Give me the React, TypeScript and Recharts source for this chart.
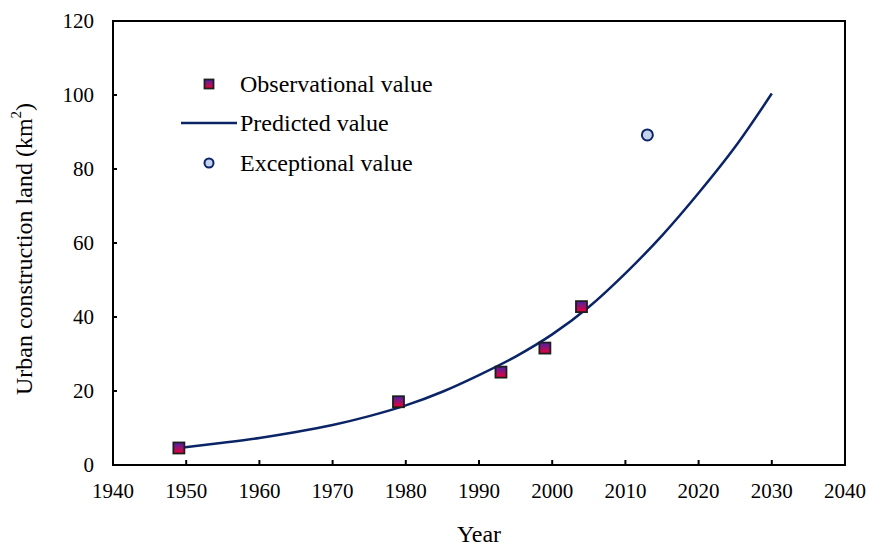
// Urban construction land: observed points, exceptional point and fitted growth curve.

import {
  ComposedChart,
  Legend,
  Line,
  ReferenceArea,
  Scatter,
  XAxis,
  YAxis,
} from 'recharts'

const SERIF = '"Liberation Serif", "Times New Roman", serif'
const NAVY = '#0b2466'

// data
const observedYears = [1949, 1979, 1993, 1999, 2004]
const observedValues = [4.6, 17.1, 25.1, 31.6, 42.8]

const exceptionalYears = [2013]
const exceptionalValues = [89.2]

const predictedYears = [
  1949, 1955, 1960, 1965, 1970, 1975, 1980, 1985, 1990, 1995, 2000, 2005, 2010,
  2015, 2020, 2025, 2030,
]
const predictedValues = [
  4.6, 6.0, 7.3, 8.9, 10.8, 13.2, 16.1, 19.8, 24.3, 29.3, 35.3, 42.7, 51.8,
  62.0, 73.5, 86.0, 100.4,
]

const xTicks = [1940, 1950, 1960, 1970, 1980, 1990, 2000, 2010, 2020, 2030, 2040]
const yTicks = [0, 20, 40, 60, 80, 100, 120]

const observed = observedYears.map((year, i) => ({ year, value: observedValues[i] }))
const exceptional = exceptionalYears.map((year, i) => ({ year, value: exceptionalValues[i] }))
const predicted = predictedYears.map((year, i) => ({ year, value: predictedValues[i] }))

const SquareMark = (props: any) => {
  const { cx, cy } = props
  if (cx == null || cy == null) return <g />
  return (
    <rect
      x={cx - 5.5}
      y={cy - 5.5}
      width={11}
      height={11}
      fill="url(#sqGrad)"
      stroke="#1e1e1e"
      strokeWidth={1.8}
    />
  )
}

const CircleMark = (props: any) => {
  const { cx, cy } = props
  if (cx == null || cy == null) return <g />
  return <circle cx={cx} cy={cy} r={5.5} fill="#c6d3ef" stroke={NAVY} strokeWidth={2} />
}

const YTitle = (props: any) => {
  const { viewBox } = props
  const cx = viewBox.x + 24
  const cy = viewBox.y + viewBox.height / 2 + 6
  return (
    <text
      x={cx}
      y={cy}
      transform={`rotate(-90 ${cx} ${cy})`}
      textAnchor="middle"
      dominantBaseline="central"
      fontFamily={SERIF}
      fontSize={24}
      fill="#000"
    >
      Urban construction land (km
      <tspan fontSize={15} dy={-8}>
        2
      </tspan>
      <tspan dy={8}>)</tspan>
    </text>
  )
}

const legendRows = [
  { key: 'obs', label: 'Observational value' },
  { key: 'pred', label: 'Predicted value' },
  { key: 'exc', label: 'Exceptional value' },
]

function LegendBox() {
  return (
    <div style={{ fontFamily: SERIF, fontSize: 24, color: '#000' }}>
      {legendRows.map((row) => (
        <div
          key={row.key}
          style={{ display: 'flex', alignItems: 'center', height: 39.5, lineHeight: 1 }}
        >
          <svg width={59} height={20} style={{ display: 'block' }}>
            {row.key === 'obs' && (
              <rect x={23.5} y={5.5} width={9} height={9} fill="url(#sqGrad)" stroke="#1e1e1e" strokeWidth={1.8} />
            )}
            {row.key === 'pred' && <line x1={0} y1={10} x2={56} y2={10} stroke={NAVY} strokeWidth={2.5} />}
            {row.key === 'exc' && (
              <circle cx={28} cy={10} r={4.5} fill="#c6d3ef" stroke={NAVY} strokeWidth={2} />
            )}
          </svg>
          <span>{row.label}</span>
        </div>
      ))}
    </div>
  )
}

export default function App() {
  return (
    <div style={{ position: 'absolute', left: 0, top: 0, background: '#fff' }}>
      <ComposedChart width={869} height={548} margin={{ top: 21, right: 24, bottom: 0, left: 0 }}>
        <defs>
          <linearGradient id="sqGrad" x1="0" y1="0" x2="0" y2="1">
            <stop offset="0%" stopColor="#4a22a8" />
            <stop offset="100%" stopColor="#ee0034" />
          </linearGradient>
        </defs>
        <ReferenceArea
          x1={1940}
          x2={2040}
          y1={0}
          y2={120}
          fill="none"
          stroke="#000"
          strokeWidth={2}
          fillOpacity={0}
        />
        <XAxis
          type="number"
          dataKey="year"
          domain={[1940, 2040]}
          ticks={xTicks}
          allowDataOverflow
          height={83}
          stroke="#000"
          strokeWidth={2}
          tickSize={-5}
          tickMargin={23}
          tick={{ fill: '#000', fontSize: 21, fontFamily: SERIF }}
          label={{
            value: 'Year',
            position: 'insideBottom',
            offset: 6,
            fill: '#000',
            fontSize: 24,
            fontFamily: SERIF,
          }}
        />
        <YAxis
          type="number"
          dataKey="value"
          domain={[0, 120]}
          ticks={yTicks}
          width={113}
          stroke="#000"
          strokeWidth={2}
          tickSize={-4}
          tickMargin={23}
          tick={{ fill: '#000', fontSize: 21, fontFamily: SERIF }}
          label={<YTitle />}
        />
        <Line
          data={predicted}
          dataKey="value"
          type="monotone"
          stroke={NAVY}
          strokeWidth={2.5}
          dot={false}
          activeDot={false}
          isAnimationActive={false}
          legendType="line"
        />
        <Scatter data={observed} dataKey="value" shape={<SquareMark />} isAnimationActive={false} />
        <Scatter data={exceptional} dataKey="value" shape={<CircleMark />} isAnimationActive={false} />
        <Legend
          layout="vertical"
          align="center"
          verticalAlign="middle"
          content={() => <LegendBox />}
          wrapperStyle={{ left: 181, top: 64, width: 320 }}
        />
      </ComposedChart>
    </div>
  )
}
